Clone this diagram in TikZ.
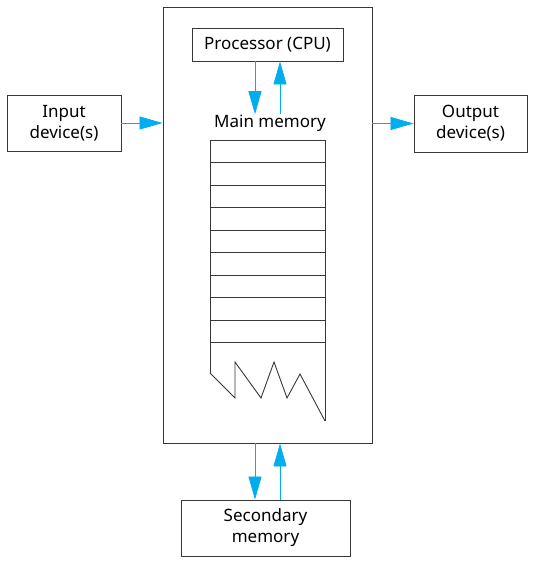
\documentclass[tikz,border=0pt]{standalone}
\usepackage{fontspec}
\setmainfont{Noto Sans}
\usetikzlibrary{arrows.meta}
\definecolor{flow}{RGB}{0,174,239}
\definecolor{edge}{RGB}{55,55,55}

\begin{document}
\begin{tikzpicture}[x=1pt, y=-1pt, line width=.9pt, draw=edge,
	box/.style={draw=edge, inner sep=0pt, align=center, font=\fontsize{17}{21}\selectfont},
	link/.style={flow, line width=.8pt, -{Triangle[length=23pt, width=13pt]}}]
	\useasboundingbox (0,0) rectangle (535,564);
	% boxes
	\node[box, minimum width=209pt, minimum height=436pt] (computer) at (267.5,225)  {};
	\node[box, minimum width=151pt, minimum height=33pt]  (cpu)      at (267.5,44.5) {Processor (CPU)};
	\node[box, minimum width=114pt, minimum height=56pt]  (input)    at (64,123)     {Input\\device(s)};
	\node[box, minimum width=113pt, minimum height=57pt]  (output)   at (470.5,123.5) {Output\\device(s)};
	\node[box, minimum width=169pt, minimum height=56pt]  (second)   at (265.5,528)  {Secondary\\memory};
	\node[box, draw=none] (mainmem) at (270,123) {Main memory};
	% memory cells
	\draw (210,373) |- (325,140) -- (325,421);
	\foreach \y in {162.5,185,207.5,230,252.5,275,297.5,320,342.5}
		\draw (210,\y) -- (325,\y);
	\draw (210,373) -- (235,398) -- (235,362) -- (261,398) -- (274,362) -- (287,398) -- (300,374) -- (325,421);
	% connections
	\draw[link] ([xshift=-12.5pt]cpu.south) -- ([xshift=-12.5pt]cpu.south |- mainmem.north);
	\draw[link] ([xshift=12.5pt]cpu.south |- mainmem.north) -- ([xshift=12.5pt]cpu.south);
	\draw[link] (input.east) -- (computer.west |- input.east);
	\draw[link] (computer.east |- output.west) -- (output.west);
	\draw[link] ([xshift=-12.5pt]computer.south) -- ([xshift=-12.5pt]computer.south |- second.north);
	\draw[link] ([xshift=12.5pt]computer.south |- second.north) -- ([xshift=12.5pt]computer.south);
\end{tikzpicture}
\end{document}
